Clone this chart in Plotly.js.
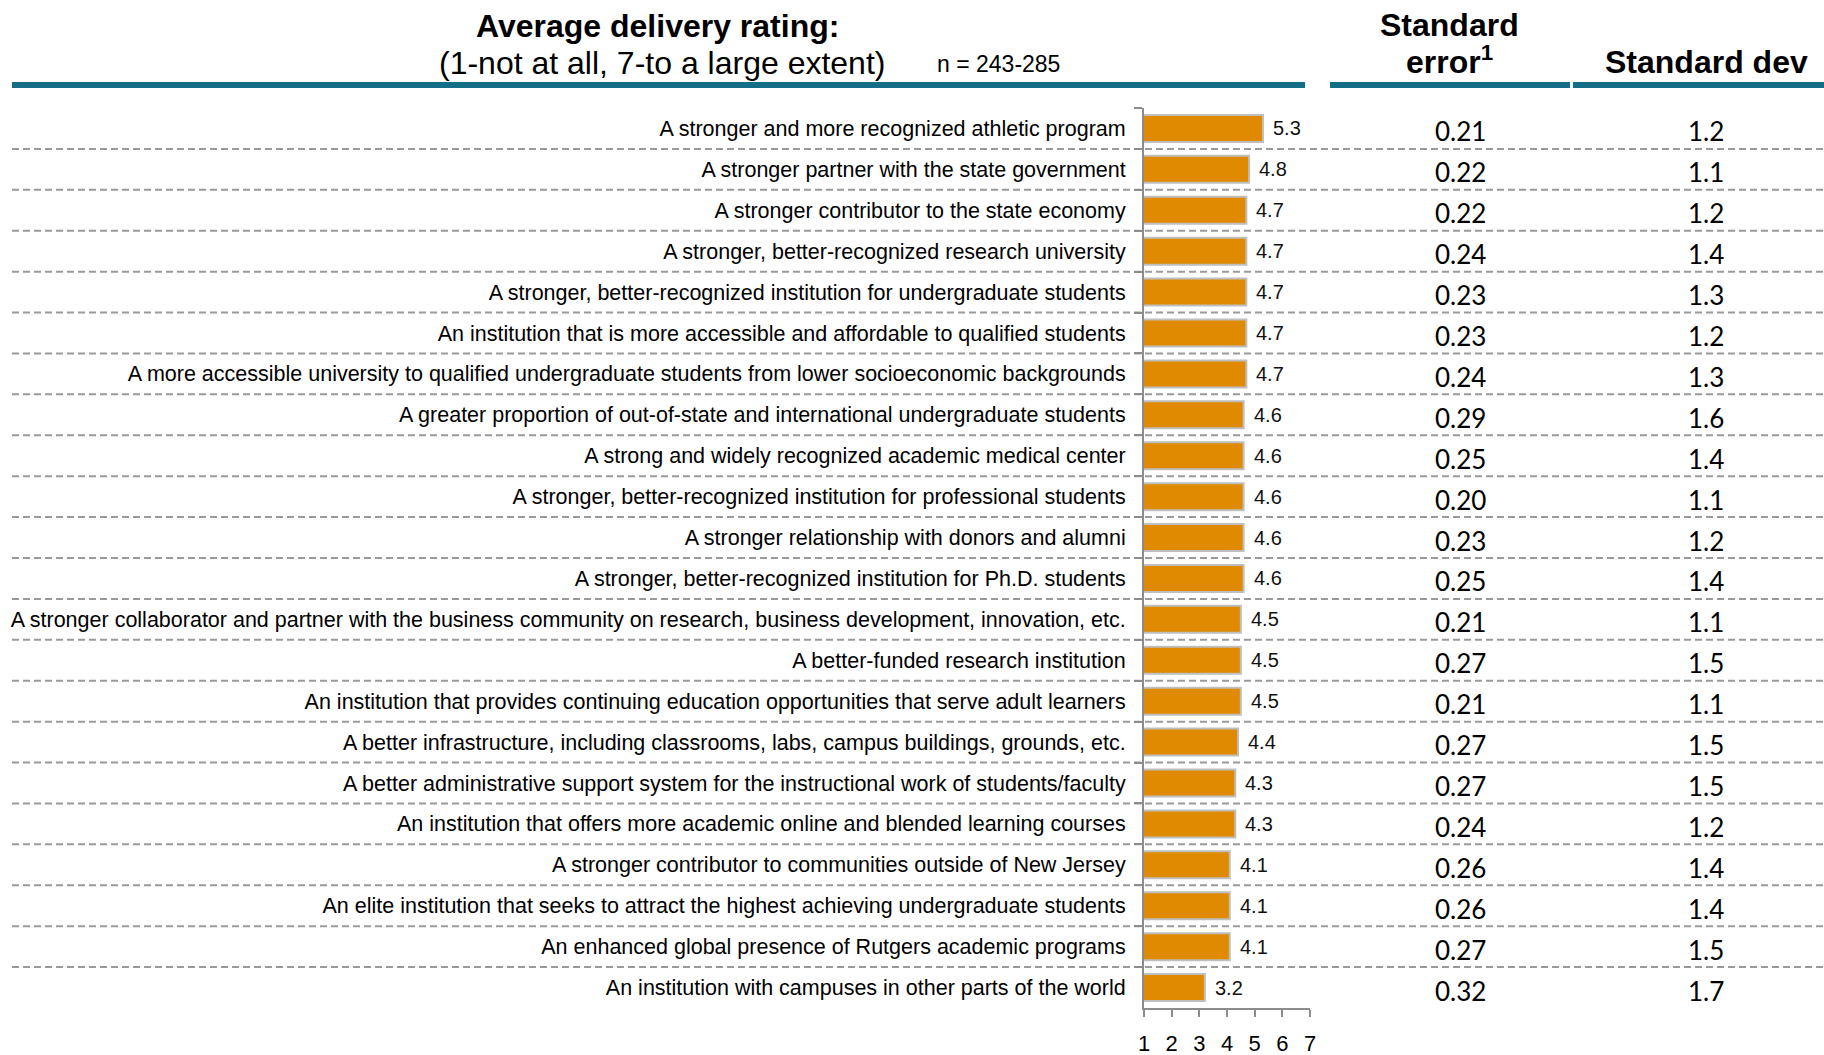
<!DOCTYPE html>
<html>
<head>
<meta charset="utf-8">
<script src="https://cdn.plot.ly/plotly-3.0.1.min.js"></script>
<style>html,body{margin:0;padding:0;background:#fff;}#chart{width:1824px;height:1055px;}</style>
</head>
<body>
<div id="chart"></div>
<script>
const categories = [
  "A stronger and more recognized athletic program",
  "A stronger partner with the state government",
  "A stronger contributor to the state economy",
  "A stronger, better-recognized research university",
  "A stronger, better-recognized institution for undergraduate students",
  "An institution that is more accessible and affordable to qualified students",
  "A more accessible university to qualified undergraduate students from lower socioeconomic backgrounds",
  "A greater proportion of out-of-state and international undergraduate students",
  "A strong and widely recognized academic medical center",
  "A stronger, better-recognized institution for professional students",
  "A stronger relationship with donors and alumni",
  "A stronger, better-recognized institution for Ph.D. students",
  "A stronger collaborator and partner with the business community on research, business development, innovation, etc.",
  "A better-funded research institution",
  "An institution that provides continuing education opportunities that serve adult learners",
  "A better infrastructure, including classrooms, labs, campus buildings, grounds, etc.",
  "A better administrative support system for the instructional work of students/faculty",
  "An institution that offers more academic online and blended learning courses",
  "A stronger contributor to communities outside of New Jersey",
  "An elite institution that seeks to attract the highest achieving undergraduate students",
  "An enhanced global presence of Rutgers academic programs",
  "An institution with campuses in other parts of the world"
];
const ratings = [5.3, 4.8, 4.7, 4.7, 4.7, 4.7, 4.7, 4.6, 4.6, 4.6, 4.6, 4.6, 4.5, 4.5, 4.5, 4.4, 4.3, 4.3, 4.1, 4.1, 4.1, 3.2];
const stdErrors = [0.21, 0.22, 0.22, 0.24, 0.23, 0.23, 0.24, 0.29, 0.25, 0.20, 0.23, 0.25, 0.21, 0.27, 0.21, 0.27, 0.27, 0.24, 0.26, 0.26, 0.27, 0.32];
const stdDevs = [1.2, 1.1, 1.2, 1.4, 1.3, 1.2, 1.3, 1.6, 1.4, 1.1, 1.2, 1.4, 1.1, 1.5, 1.1, 1.5, 1.5, 1.2, 1.4, 1.4, 1.5, 1.7];
const xTicks = [1, 2, 3, 4, 5, 6, 7];
const headerTitle = "Average delivery rating:";
const headerSub = "(1-not at all, 7-to a large extent)";
const headerN = "n = 243-285";
const headerSE1 = "Standard";
const headerSE2 = "error<sup>1</sup>";
const headerSD = "Standard dev";

// layout geometry (pixels)
const W = 1824, H = 1055;
const P = {l: 1144, r: 1310, t: 108, b: 1008};
const px = x => (x - P.l) / (P.r - P.l);
const py = y => (P.b - y) / (P.b - P.t);

const ARIAL = "Arial, 'Liberation Sans', sans-serif";
const CAL = "Lato, 'Open Sans', sans-serif";
const TEAL = "#146E88";
const GRID = "#9a9a9a";
const AXC = "#8c8c8c";

const trace = {
  type: "bar",
  orientation: "h",
  x: ratings,
  y: categories,
  width: 0.66,
  marker: {color: "#DF8A00", line: {color: "#BFBFBF", width: 2}},
  hoverinfo: "x+y"
};

const shapes = [];
// dashed row separators
for (let i = 0; i < categories.length - 1; i++) {
  shapes.push({type: "line", xref: "paper", yref: "y", x0: px(12), x1: px(W), y0: i + 0.5, y1: i + 0.5,
    line: {color: GRID, width: 2, dash: "7px,4px"}, layer: "below"});
}
// header rules
[[12, 1305], [1330, 1570], [1573, 1824]].forEach(([a, b]) => {
  shapes.push({type: "rect", xref: "paper", yref: "paper", x0: px(a), x1: px(b), y0: py(88), y1: py(82),
    fillcolor: TEAL, line: {width: 0}});
});

const annotations = [];
function ann(text, x, y, size, bold, opts) {
  annotations.push(Object.assign({text: bold ? "<b>" + text + "</b>" : text, xref: "paper", yref: "paper",
    x: px(x), y: py(y), showarrow: false, xanchor: "center", yanchor: "middle",
    font: {family: ARIAL, size: size, color: "#000"}}, opts || {}));
}
ann(headerTitle, 657, 26, 32, true);
ann(headerSub, 662, 63, 32, false);
ann(headerN, 998, 64, 23, false);
ann(headerSE1, 1449, 25, 32, true);
ann(headerSE2, 1449, 60, 32, true);
ann(headerSD, 1706, 62, 32, true);

categories.forEach((c, i) => {
  // bar value labels
  annotations.push({text: ratings[i].toFixed(1), xref: "x", yref: "y", x: ratings[i], y: c,
    showarrow: false, xanchor: "left", yanchor: "middle", xshift: 8,
    font: {family: ARIAL, size: 20, color: "#111"}});
  annotations.push({text: stdErrors[i].toFixed(2), xref: "paper", yref: "y", x: px(1460), y: c,
    showarrow: false, xanchor: "center", yanchor: "middle", yshift: -3,
    font: {family: CAL, size: 26, color: "#000"}});
  annotations.push({text: stdDevs[i].toFixed(1), xref: "paper", yref: "y", x: px(1706), y: c,
    showarrow: false, xanchor: "center", yanchor: "middle", yshift: -3,
    font: {family: CAL, size: 26, color: "#000"}});
});

const layout = {
  width: W, height: H,
  margin: {l: P.l, r: W - P.r, t: P.t, b: H - P.b, pad: 0},
  paper_bgcolor: "#fff", plot_bgcolor: "rgba(0,0,0,0)",
  showlegend: false,
  bargap: 0.34,
  xaxis: {
    range: [1, 7], tickvals: xTicks, ticktext: xTicks.map(String),
    showgrid: false, zeroline: false, showline: true, linecolor: AXC, linewidth: 2,
    ticks: "outside", ticklen: 7, tickwidth: 2, tickcolor: AXC,
    tickfont: {family: ARIAL, size: 22, color: "#000"}, ticklabelstandoff: 8,
    fixedrange: true
  },
  yaxis: {
    type: "category", categoryorder: "array", categoryarray: categories,
    range: [categories.length - 0.5, -0.5],
    showgrid: false, zeroline: false, showline: true, linecolor: AXC, linewidth: 2,
    ticks: "outside", tickson: "boundaries", ticklen: 8, tickwidth: 2, tickcolor: AXC,
    tickfont: {family: ARIAL, size: 21.5, color: "#000"}, ticklabelstandoff: 12,
    automargin: false, fixedrange: true
  },
  shapes: shapes,
  annotations: annotations
};

Plotly.newPlot("chart", [trace], layout, {displayModeBar: false, staticPlot: true});
</script>
</body>
</html>
